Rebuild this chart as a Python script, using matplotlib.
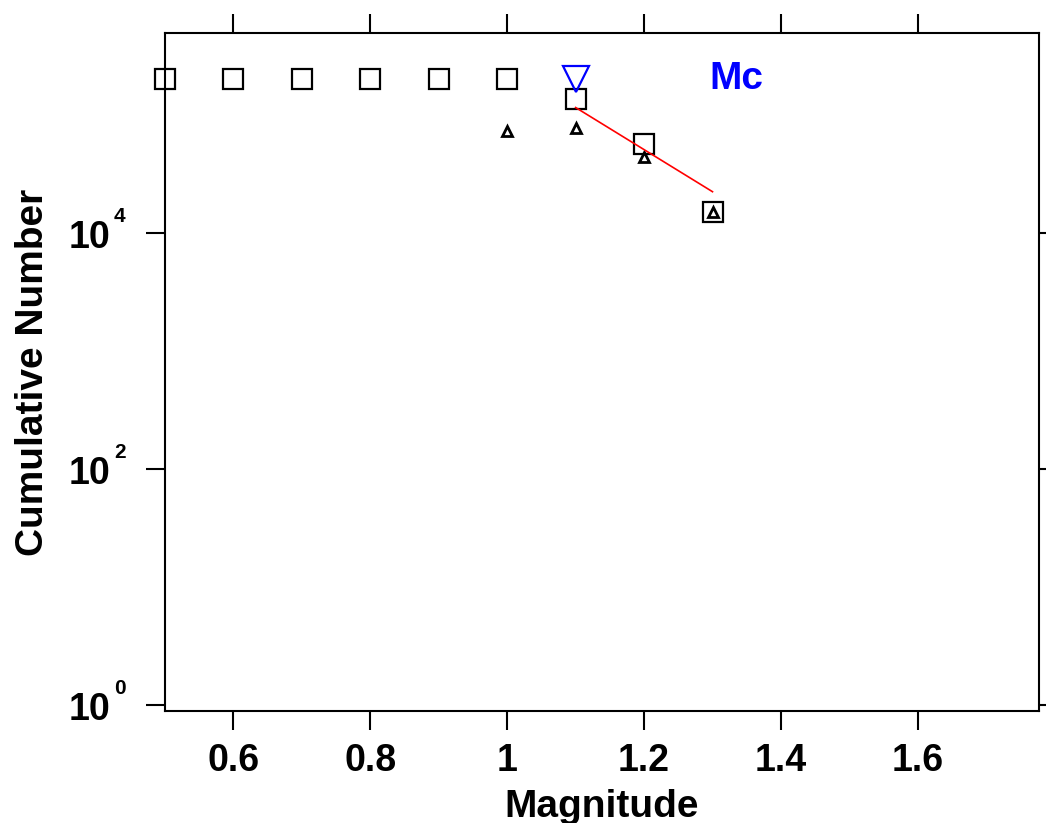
import matplotlib
matplotlib.use("Agg")
import matplotlib.pyplot as plt
import matplotlib.transforms as mtransforms
import numpy as np

plt.rcParams['font.family'] = ['Liberation Sans', 'DejaVu Sans']

# cumulative counts per magnitude bin
mag_cum = [0.5, 0.6, 0.7, 0.8, 0.9, 1.0, 1.1, 1.2, 1.3]
n_cum = [198000, 198000, 198000, 198000, 198000, 198000, 134000, 56700, 15000]

# non-cumulative counts
mag_non = [1.0, 1.1, 1.2, 1.3]
n_non = [71800, 77600, 44000, 15000]

# magnitude of completeness
mc_mag = 1.1
mc_n = 198000

# fitted line
fit_mag = [1.1, 1.3]
fit_n = [114600, 22200]

xticks = [0.6, 0.8, 1.0, 1.2, 1.4, 1.6]
xticklabels = ['0.6', '0.8', '1', '1.2', '1.4', '1.6']
yticks = [1, 100, 10000]
yexps = ['0', '2', '4']

fig = plt.figure(figsize=(10.46, 8.23), dpi=100)
ax = fig.add_axes([0.1577, 0.1361, 0.9933 - 0.1577, 0.9599 - 0.1361])

ax.plot(mag_cum, n_cum, 's', ms=14, mfc='none', mec='black', mew=1.6, clip_on=False)
ax.plot(mag_non, n_non, '^', ms=7, mfc='none', mec='black', mew=2.0)
ax.plot(fit_mag, fit_n, '-', color='red', lw=1.2)
ax.plot([mc_mag], [mc_n], 'v', ms=19, mfc='none', mec='blue', mew=1.6)
ax.text(1.335, mc_n, 'Mc', color='blue', fontsize=28, fontweight='bold',
        ha='center', va='center')

ax.set_yscale('log')
ax.set_xlim(0.5, 1.777)
ax.set_ylim(10 ** -0.05, 10 ** 5.69)

ax.set_xticks(xticks)
ax.set_xticklabels(xticklabels)
ax.set_yticks(yticks)
ax.set_yticklabels([''] * len(yticks))
ax.minorticks_off()
ax.tick_params(axis='both', which='major', direction='out', length=14, width=1.5,
               labelsize=27, top=True, right=True, pad=9)
for lab in ax.get_xticklabels():
    lab.set_fontweight('bold')

# y tick labels drawn as 10 with a small superscript
trans = mtransforms.blended_transform_factory(ax.transAxes, ax.transData)
for yv, ex in zip(yticks, yexps):
    t1 = mtransforms.offset_copy(trans, fig=fig, x=-55 * 0.72, y=-15 * 0.72, units='points')
    ax.text(0, yv, '10', transform=t1, ha='right', va='baseline',
            fontsize=27, fontweight='bold')
    t2 = mtransforms.offset_copy(trans, fig=fig, x=-51 * 0.72, y=11 * 0.72, units='points')
    ax.text(0, yv, ex, transform=t2, ha='left', va='baseline',
            fontsize=15, fontweight='bold')

for sp in ax.spines.values():
    sp.set_linewidth(1.5)

ax.set_xlabel('Magnitude', fontsize=28, fontweight='bold', labelpad=7)
ax.set_ylabel('Cumulative Number', fontsize=28, fontweight='bold')
ax.yaxis.set_label_coords(-0.130, 0.5)

fig.savefig('out.png', dpi=100)
